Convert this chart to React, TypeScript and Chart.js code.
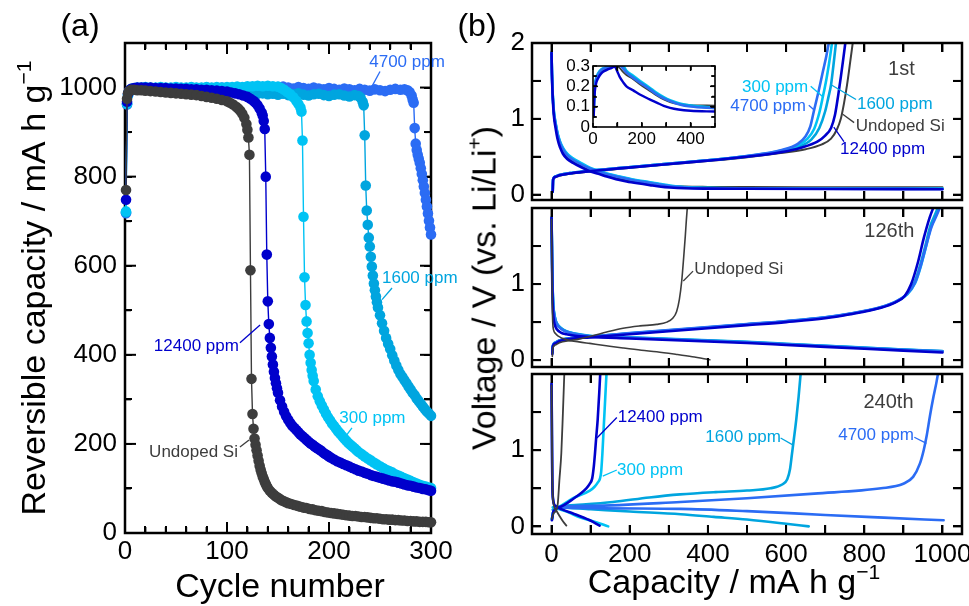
import { useEffect, useRef } from "react";
import { Chart, registerables } from "chart.js";

Chart.register(...registerables);

const FONT = "'Liberation Sans', Arial, Helvetica, sans-serif";

const COLOR_UNDOPED = "#3d3d3d";
const COLOR_12400 = "#0000cc";
const COLOR_300 = "#00c3f4";
const COLOR_1600 = "#00a5df";
const COLOR_4700 = "#2b6cf4";

type Pt = [number, number];

// ---------------- Panel (a): reversible capacity vs cycle number ----------------
const cycleTickLabels = [0, 100, 200, 300];
const capacityTickLabels = [0, 200, 400, 600, 800, 1000];

const capUndoped: Pt[] = [[1,770],[2,975],[3,987],[4,992],[6,995],[9,995],[12,994],[16,994],[20,993],[25,992],[30,991],[35,990],[40,989],[45,988],[50,987],[55,986],[60,985],[65,984],[70,983],[75,981],[80,979],[85,977],[90,975],[95,972],[100,969],[103,966],[106,962],[109,957],[111,953],[113,948],[115,941],[117,932],[119,918],[120,905],[121,888],[122,849],[123,590],[124,346],[125,267],[126,234],[127,212],[128,198],[129,186],[130,174],[131,162],[132,151],[133,142],[134,134],[135,127],[136,121],[137,115],[138,110],[139,105],[140,101],[142,95],[144,90],[146,86],[148,82],[150,79],[152,76],[154,73],[156,71],[158,69],[160,67],[163,65],[166,63],[169,61],[172,59],[175,57],[178,56],[181,54],[184,53],[187,51],[190,50],[193,49],[196,47],[199,46],[202,45],[205,44],[208,43],[211,42],[214,41],[217,40],[220,39],[223,38],[226,38],[229,37],[232,36],[235,36],[238,35],[241,34],[244,33],[247,33],[250,32],[253,31],[256,31],[259,30],[262,30],[265,29],[268,29],[271,28],[274,28],[277,27],[280,27],[283,26],[286,26],[289,25],[292,25],[295,25],[298,24],[300,24]];

const cap12400: Pt[] = [[1,748],[2,968],[3,986],[4,993],[6,997],[9,999],[12,1000],[16,1000],[20,1000],[25,1000],[30,999],[35,999],[40,999],[45,998],[50,998],[55,997],[60,997],[65,996],[70,996],[75,995],[80,995],[85,994],[90,993],[95,992],[100,991],[104,989],[108,987],[112,985],[116,982],[120,979],[123,975],[126,970],[128,966],[130,960],[132,953],[134,944],[135,937],[136,925],[137,907],[138,800],[139,625],[140,520],[141,469],[142,438],[143,416],[144,396],[145,378],[146,362],[147,348],[148,336],[149,325],[150,315],[152,298],[154,284],[156,272],[158,262],[160,254],[162,247],[164,241],[166,236],[168,231],[170,226],[172,221],[174,217],[176,213],[178,209],[180,205],[182,201],[184,198],[186,194],[188,191],[190,188],[192,185],[194,181],[196,178],[198,175],[200,172],[202,169],[205,165],[208,161],[211,158],[214,155],[217,152],[220,149],[223,146],[226,143],[229,140],[232,138],[235,135],[238,133],[241,130],[244,128],[247,126],[250,124],[253,122],[256,120],[259,118],[262,116],[265,115],[268,113],[271,111],[274,109],[277,107],[280,106],[283,104],[286,102],[289,101],[292,99],[295,98],[298,96],[300,95]];

const cap300: Pt[] = [[1,722],[2,964],[3,984],[4,992],[6,997],[9,999],[12,1000],[16,1000],[20,1001],[25,1000],[30,1000],[35,1001],[40,1000],[45,1000],[50,1001],[55,1000],[60,1000],[65,1001],[70,1000],[75,1000],[80,1001],[85,1000],[90,1001],[95,1000],[100,1001],[105,1001],[110,1002],[115,1001],[120,1003],[125,1003],[130,1004],[135,1003],[140,1004],[145,1003],[150,1002],[153,999],[156,995],[159,990],[162,985],[165,978],[168,970],[170,963],[172,955],[173,946],[174,881],[175,710],[176,574],[177,512],[178,475],[179,449],[180,426],[181,400],[182,382],[183,366],[184,353],[185,341],[187,322],[189,307],[191,296],[193,286],[195,277],[197,268],[199,260],[201,253],[203,246],[205,240],[207,234],[209,228],[211,223],[213,217],[215,212],[217,207],[219,202],[221,198],[223,194],[225,190],[227,186],[229,182],[232,177],[235,172],[238,167],[241,163],[244,158],[247,154],[250,150],[253,146],[256,142],[259,139],[262,136],[265,132],[268,129],[271,126],[274,123],[277,120],[280,117],[283,114],[286,111],[289,108],[292,106],[295,104],[298,102],[300,101]];

const cap1600: Pt[] = [[1,720],[2,963],[3,983],[4,991],[6,995],[9,997],[12,998],[16,998],[20,998],[25,997],[30,997],[35,997],[40,996],[45,996],[50,996],[55,995],[60,995],[65,995],[70,994],[75,994],[80,993],[85,993],[90,992],[95,992],[100,991],[105,990],[110,990],[115,989],[120,988],[125,987],[130,986],[135,987],[140,985],[145,986],[150,984],[155,986],[160,983],[165,985],[170,987],[175,984],[180,982],[185,985],[190,986],[195,983],[200,981],[205,984],[210,985],[215,982],[220,980],[225,983],[229,981],[231,977],[233,968],[234,960],[235,893],[236,780],[237,724],[238,692],[239,663],[240,643],[241,620],[242,598],[243,578],[244,560],[245,545],[246,531],[247,518],[248,506],[250,489],[252,471],[254,454],[256,438],[258,425],[260,413],[262,399],[264,387],[266,376],[268,366],[270,357],[272,350],[274,343],[276,336],[278,329],[280,322],[282,315],[284,309],[286,302],[288,296],[290,290],[292,284],[294,278],[296,273],[298,268],[300,263]];

const cap4700: Pt[] = [[1,718],[2,962],[3,983],[4,991],[6,996],[9,998],[12,999],[16,999],[20,1000],[25,999],[30,999],[35,1000],[40,999],[45,999],[50,1000],[55,999],[60,999],[65,1000],[70,999],[75,999],[80,1000],[85,999],[90,999],[95,1000],[100,999],[105,999],[110,1000],[115,999],[120,1000],[125,999],[130,1000],[135,1001],[140,1000],[145,999],[150,1001],[155,1002],[160,1000],[165,998],[170,1001],[175,999],[180,997],[185,1000],[190,998],[195,996],[200,999],[205,997],[210,995],[215,998],[220,996],[225,994],[230,997],[235,995],[240,993],[245,996],[250,994],[255,992],[260,995],[265,997],[270,995],[274,996],[277,994],[279,990],[281,982],[282,973],[283,966],[284,909],[285,874],[286,860],[287,849],[288,840],[289,831],[290,819],[291,806],[292,792],[293,778],[294,763],[295,748],[296,733],[297,717],[298,701],[299,686],[300,670]];

// ---------------- Panel (b): voltage profiles ----------------
const capAxisTickLabels = [0, 200, 400, 600, 800, 1000];
const voltTickLabelsTop = [0, 1, 2];
const voltTickLabels = [0, 1];
const insetCapTickLabels = [0, 200, 400];
const insetVoltTickLabels = [0, 0.1, 0.2, 0.3];

// 1st cycle
const c1DisUndoped: Pt[] = [[0,1.87],[1,1.6],[3,1.3],[6,1.06],[10,0.92],[16,0.75],[22,0.65],[29,0.57],[40,0.5],[55,0.44],[75,0.38],[98,0.33],[120,0.295],[141,0.26],[165,0.225],[192,0.19],[220,0.165],[252,0.14],[280,0.125],[303,0.115],[340,0.107],[400,0.103],[500,0.1],[700,0.099],[1000,0.098]];
const c1Dis12400: Pt[] = [[0,1.87],[1,1.58],[3,1.28],[6,1.04],[10,0.89],[16,0.72],[22,0.62],[29,0.54],[40,0.47],[55,0.42],[75,0.365],[98,0.31],[120,0.275],[141,0.24],[165,0.205],[192,0.175],[220,0.15],[252,0.125],[280,0.105],[303,0.095],[340,0.085],[400,0.08],[500,0.078],[700,0.075],[1000,0.072]];
const c1Dis300: Pt[] = [[0,1.87],[1,1.62],[3,1.33],[6,1.1],[10,0.96],[16,0.8],[22,0.7],[29,0.62],[40,0.54],[55,0.48],[75,0.42],[98,0.355],[120,0.315],[141,0.28],[165,0.25],[192,0.22],[220,0.19],[252,0.165],[280,0.14],[303,0.12],[340,0.1],[400,0.09],[500,0.085],[700,0.082],[1000,0.08]];
const c1Dis1600: Pt[] = [[0,1.87],[1,1.61],[3,1.32],[6,1.09],[10,0.95],[16,0.79],[22,0.69],[29,0.61],[40,0.53],[55,0.47],[75,0.41],[98,0.35],[120,0.31],[141,0.275],[165,0.245],[192,0.215],[220,0.185],[252,0.16],[280,0.135],[303,0.115],[340,0.098],[400,0.088],[500,0.083],[700,0.08],[1000,0.078]];
const c1Dis4700: Pt[] = [[0,1.87],[1,1.6],[3,1.31],[6,1.08],[10,0.94],[16,0.78],[22,0.68],[29,0.6],[40,0.52],[55,0.46],[75,0.4],[98,0.345],[120,0.305],[141,0.27],[165,0.24],[192,0.21],[220,0.18],[252,0.155],[280,0.13],[303,0.11],[340,0.095],[400,0.085],[500,0.08],[700,0.078],[1000,0.076]];
const c1ChgUndoped: Pt[] = [[3,0.04],[4,0.19],[10,0.23],[20,0.25],[55,0.28],[98,0.305],[183,0.345],[303,0.4],[413,0.45],[500,0.495],[586,0.55],[650,0.6],[690,0.66],[715,0.74],[730,0.86],[740,1.0],[748,1.2],[756,1.45],[764,1.75],[771,2.02]];
const c1Chg12400: Pt[] = [[3,0.04],[4,0.2],[10,0.235],[20,0.255],[55,0.285],[98,0.31],[183,0.35],[303,0.405],[413,0.455],[500,0.5],[586,0.56],[638,0.62],[680,0.7],[700,0.78],[715,0.88],[725,1.05],[733,1.3],[740,1.55],[746,1.78],[752,2.02]];
const c1Chg300: Pt[] = [[3,0.04],[4,0.2],[10,0.24],[20,0.26],[55,0.29],[98,0.315],[183,0.355],[303,0.41],[413,0.46],[500,0.51],[586,0.58],[630,0.65],[655,0.74],[672,0.87],[685,1.08],[694,1.29],[703,1.52],[711,1.77],[718,2.02]];
const c1Chg1600: Pt[] = [[3,0.04],[4,0.2],[10,0.24],[20,0.26],[55,0.29],[98,0.315],[183,0.355],[303,0.41],[413,0.46],[500,0.505],[586,0.57],[630,0.63],[665,0.73],[685,0.88],[700,1.1],[708,1.28],[715,1.45],[721,1.7],[728,2.02]];
const c1Chg4700: Pt[] = [[3,0.04],[4,0.2],[10,0.24],[20,0.26],[55,0.29],[98,0.315],[183,0.355],[303,0.41],[413,0.46],[500,0.51],[586,0.585],[630,0.67],[650,0.77],[662,0.9],[671,1.1],[683,1.36],[694,1.62],[703,1.83],[710,2.02]];

// inset of 1st cycle (0-0.3 V)
const inUndoped: Pt[] = [[3,0.05],[5,0.14],[8,0.19],[14,0.23],[21,0.25],[35,0.27],[55,0.285],[75,0.295],[95,0.302],[108,0.292],[122,0.272],[137,0.256],[165,0.235],[192,0.21],[230,0.18],[261,0.155],[290,0.135],[316,0.122],[355,0.112],[400,0.108],[500,0.105]];
const in12400: Pt[] = [[3,0.05],[5,0.13],[8,0.18],[14,0.22],[21,0.24],[35,0.265],[55,0.28],[75,0.29],[89,0.297],[100,0.272],[110,0.245],[125,0.218],[137,0.2],[165,0.18],[192,0.16],[230,0.137],[261,0.12],[290,0.104],[316,0.094],[350,0.086],[400,0.08],[500,0.076]];
const in300: Pt[] = [[3,0.06],[5,0.16],[8,0.21],[14,0.245],[21,0.265],[35,0.285],[55,0.295],[75,0.305],[100,0.312],[120,0.308],[137,0.278],[165,0.252],[192,0.228],[230,0.196],[261,0.168],[290,0.147],[316,0.132],[355,0.116],[400,0.106],[500,0.096]];
const in1600: Pt[] = [[3,0.06],[5,0.155],[8,0.205],[14,0.24],[21,0.26],[35,0.282],[55,0.293],[75,0.303],[100,0.31],[118,0.305],[137,0.272],[165,0.246],[192,0.222],[230,0.191],[261,0.163],[290,0.143],[316,0.129],[355,0.113],[400,0.104],[500,0.094]];
const in4700: Pt[] = [[3,0.055],[5,0.15],[8,0.2],[14,0.238],[21,0.258],[35,0.28],[55,0.292],[75,0.3],[100,0.306],[115,0.298],[137,0.267],[165,0.241],[192,0.218],[230,0.187],[261,0.16],[290,0.14],[316,0.127],[355,0.11],[400,0.1],[500,0.092]];

// 126th cycle
const c126DisUndoped: Pt[] = [[0,1.85],[1,1.2],[2,0.7],[3,0.5],[5,0.4],[10,0.35],[16,0.32],[38,0.27],[70,0.24],[98,0.22],[140,0.19],[183,0.16],[230,0.13],[269,0.11],[320,0.075],[360,0.045],[405,0.005]];
const c126ChgUndoped: Pt[] = [[2,0.05],[3,0.15],[10,0.2],[20,0.23],[50,0.26],[72,0.28],[105,0.32],[141,0.37],[183,0.42],[226,0.45],[269,0.47],[295,0.5],[310,0.55],[320,0.64],[327,0.8],[333,1.04],[338,1.35],[342,1.62],[345,1.85],[348,2.05]];
const c126Dis12400: Pt[] = [[0,1.87],[1,1.4],[2,0.95],[3,0.72],[5,0.56],[8,0.47],[13,0.41],[25,0.36],[38,0.34],[60,0.32],[98,0.305],[200,0.285],[300,0.265],[400,0.245],[500,0.225],[600,0.2],[700,0.175],[800,0.15],[900,0.125],[1000,0.1]];
const c126Dis300: Pt[] = [[0,1.87],[1,1.51],[2,1.11],[4,0.77],[8,0.575],[13,0.485],[25,0.415],[38,0.378],[60,0.348],[98,0.318],[200,0.298],[300,0.278],[400,0.258],[500,0.238],[600,0.212],[700,0.188],[800,0.163],[900,0.138],[1000,0.118]];
const c126Dis1600: Pt[] = [[0,1.87],[1,1.52],[2,1.12],[4,0.78],[8,0.58],[13,0.49],[25,0.42],[38,0.38],[60,0.35],[98,0.32],[200,0.3],[300,0.28],[400,0.26],[500,0.24],[600,0.215],[700,0.19],[800,0.165],[900,0.14],[1000,0.12]];
const c126Dis4700: Pt[] = [[0,1.87],[1,1.5],[2,1.1],[4,0.76],[8,0.57],[13,0.48],[25,0.41],[38,0.375],[60,0.345],[98,0.315],[200,0.295],[300,0.275],[400,0.255],[500,0.235],[600,0.21],[700,0.185],[800,0.16],[900,0.135],[1000,0.115]];
const c126Chg12400: Pt[] = [[2,0.08],[3,0.17],[10,0.22],[20,0.25],[50,0.28],[98,0.3],[200,0.34],[300,0.38],[400,0.42],[500,0.46],[600,0.5],[700,0.55],[760,0.6],[843,0.69],[880,0.76],[903,0.84],[920,1.0],[938,1.3],[952,1.6],[967,1.87],[980,2.05]];
const c126Chg300: Pt[] = [[2,0.1],[3,0.18],[10,0.23],[20,0.26],[50,0.29],[98,0.31],[200,0.352],[300,0.392],[400,0.432],[500,0.472],[600,0.512],[700,0.562],[760,0.607],[843,0.697],[880,0.767],[910,0.865],[930,1.01],[945,1.24],[958,1.49],[970,1.74],[983,1.9],[995,2.05]];
const c126Chg1600: Pt[] = [[2,0.1],[3,0.18],[10,0.23],[20,0.26],[50,0.29],[98,0.31],[200,0.35],[300,0.39],[400,0.43],[500,0.47],[600,0.51],[700,0.56],[760,0.605],[843,0.695],[880,0.765],[908,0.865],[928,1.02],[943,1.25],[956,1.5],[968,1.75],[980,1.9],[992,2.05]];
const c126Chg4700: Pt[] = [[2,0.1],[3,0.18],[10,0.23],[20,0.26],[50,0.29],[98,0.31],[200,0.355],[300,0.395],[400,0.435],[500,0.475],[600,0.515],[700,0.565],[760,0.61],[843,0.7],[880,0.77],[910,0.87],[930,1.02],[945,1.25],[958,1.5],[972,1.75],[985,1.9],[997,2.05]];

// 240th cycle
const c240DisUndoped: Pt[] = [[0,1.85],[2,0.6],[5,0.3],[12,0.21],[20,0.14],[30,0.06],[38,0.01]];
const c240ChgUndoped: Pt[] = [[1,0.1],[5,0.17],[12,0.21],[16,0.3],[20,0.6],[25,0.96],[29,1.48],[33,2.05]];
const c240Dis12400: Pt[] = [[0,1.87],[1,1.2],[2,0.6],[4,0.35],[10,0.27],[28,0.22],[55,0.17],[98,0.08],[123,0.01]];
const c240Chg12400: Pt[] = [[1,0.08],[5,0.2],[20,0.25],[55,0.36],[89,0.5],[98,0.56],[104,0.63],[108,0.78],[111,0.95],[114,1.15],[118,1.4],[122,1.75],[125,2.05]];
const c240Dis300: Pt[] = [[3,0.25],[10,0.24],[40,0.19],[72,0.12],[110,0.06],[145,0.0]];
const c240Chg300: Pt[] = [[1,0.09],[5,0.2],[20,0.26],[55,0.37],[98,0.47],[110,0.52],[119,0.58],[124,0.63],[127,0.72],[130,0.95],[133,1.25],[136,1.55],[139,1.85],[141,2.05]];
const c240Dis1600: Pt[] = [[3,0.22],[15,0.25],[100,0.225],[200,0.195],[330,0.16],[415,0.125],[500,0.09],[600,0.035],[658,0.0]];
const c240Chg1600: Pt[] = [[1,0.1],[5,0.2],[15,0.25],[60,0.28],[157,0.32],[250,0.38],[329,0.42],[420,0.45],[500,0.47],[560,0.5],[590,0.55],[603,0.62],[610,0.75],[615,0.95],[620,1.15],[626,1.4],[632,1.7],[638,2.05]];
const c240Dis4700: Pt[] = [[0,1.87],[1,1.2],[2,0.6],[4,0.35],[10,0.26],[20,0.25],[330,0.23],[500,0.2],[700,0.15],[850,0.115],[1003,0.08]];
const c240Chg4700: Pt[] = [[1,0.1],[5,0.2],[12,0.25],[100,0.27],[330,0.32],[500,0.37],[672,0.43],[843,0.5],[900,0.56],[925,0.65],[942,0.82],[952,1.0],[960,1.2],[968,1.45],[977,1.7],[985,1.9],[990,2.05]];

// ---------------- helpers ----------------
const toXY = (arr: Pt[]) => arr.map(([x, y]) => ({ x, y }));

function markerSeries(data: Pt[], color: string) {
  return {
    data: toXY(data), xAxisID: "x", yAxisID: "y", borderColor: color, backgroundColor: color, borderWidth: 1.4,
    pointRadius: 5.3, pointHoverRadius: 5.3, pointBorderWidth: 0, showLine: true, clip: false, tension: 0,
  };
}
function curve(data: Pt[], color: string, width = 2.6) {
  return {
    data: toXY(data), xAxisID: "x", yAxisID: "y", borderColor: color, backgroundColor: color, borderWidth: width,
    pointRadius: 0, pointHoverRadius: 0, showLine: true, cubicInterpolationMode: "monotone",
    borderJoinStyle: "round", borderCapStyle: "round",
  };
}

type Seg = { t: string; sup?: boolean };
type Title = { segs: Seg[]; px: number; py: number; size: number; rot?: number };

const txt = (text: string, x: number, y: number, color: string, size = 17) => ({ kind: "text", text, x, y, color, size });
const lead = (x1: number, y1: number, x2: number, y2: number, color: string) => ({ kind: "line", x1, y1, x2, y2, color });

function stepValues(min: number, max: number, step: number) {
  const out: number[] = [];
  const k0 = Math.ceil(min / step - 1e-9);
  const k1 = Math.floor(max / step + 1e-9);
  for (let k = k0; k <= k1; k++) out.push(Number((k * step).toFixed(6)));
  return out;
}
function isMultiple(v: number, step: number) {
  return Math.abs(v / step - Math.round(v / step)) < 1e-6;
}
function inList(list: number[], v: number) {
  return list.some((u) => Math.abs(u - v) < 1e-6);
}

function drawFrame(chart: any, d: any) {
  const ctx = chart.ctx;
  const a = chart.chartArea;
  const xs = chart.scales.x;
  const ys = chart.scales.y;
  const w = d.tickW;
  ctx.save();
  ctx.fillStyle = "#000";
  const xv = stepValues(d.xMin, d.xMax, d.xMinor);
  for (let i = 0; i < xv.length; i++) {
    const v = xv[i];
    const p = xs.getPixelForValue(v);
    if (!(p > a.left + 1.5 && p < a.right - 1.5)) continue;
    const len = isMultiple(v, d.xMajor) ? d.xMajLen : d.xMinLen;
    ctx.fillRect(p - w / 2, a.bottom - len, w, len);
    ctx.fillRect(p - w / 2, a.top, w, len);
  }
  const yv = stepValues(d.yMin, d.yMax, d.yMinor);
  for (let i = 0; i < yv.length; i++) {
    const v = yv[i];
    const p = ys.getPixelForValue(v);
    if (!(p > a.top + 1.5 && p < a.bottom - 1.5)) continue;
    const len = isMultiple(v, d.yMajor) ? d.yMajLen : d.yMinLen;
    ctx.fillRect(a.left, p - w / 2, len, w);
    ctx.fillRect(a.right - len, p - w / 2, len, w);
  }
  ctx.strokeStyle = "#000";
  ctx.lineWidth = d.frameW;
  ctx.strokeRect(a.left, a.top, a.right - a.left, a.bottom - a.top);
  ctx.restore();
}

function drawRich(ctx: CanvasRenderingContext2D, t: Title, ox: number, oy: number) {
  ctx.save();
  ctx.translate(t.px - ox, t.py - oy);
  ctx.rotate(t.rot || 0);
  ctx.fillStyle = "#000";
  ctx.textBaseline = "alphabetic";
  ctx.textAlign = "left";
  const supSize = t.size * 0.62;
  const widths = t.segs.map((s) => {
    ctx.font = `${s.sup ? supSize : t.size}px ${FONT}`;
    return ctx.measureText(s.t).width;
  });
  const total = widths.reduce((a, b) => a + b, 0);
  let x = -total / 2;
  t.segs.forEach((s, i) => {
    ctx.font = `${s.sup ? supSize : t.size}px ${FONT}`;
    ctx.fillText(s.t, x, s.sup ? -t.size * 0.4 : 0);
    x += widths[i];
  });
  ctx.restore();
}

function drawAnns(chart: any, anns: any[]) {
  const ctx = chart.ctx;
  const xs = chart.scales.x;
  const ys = chart.scales.y;
  ctx.save();
  for (const an of anns) {
    if (an.kind === "line") {
      ctx.strokeStyle = an.color;
      ctx.lineWidth = 1.3;
      ctx.beginPath();
      ctx.moveTo(xs.getPixelForValue(an.x1), ys.getPixelForValue(an.y1));
      ctx.lineTo(xs.getPixelForValue(an.x2), ys.getPixelForValue(an.y2));
      ctx.stroke();
    } else {
      ctx.fillStyle = an.color;
      ctx.font = `${an.size}px ${FONT}`;
      ctx.textAlign = "center";
      ctx.textBaseline = "middle";
      ctx.fillText(an.text, xs.getPixelForValue(an.x), ys.getPixelForValue(an.y));
    }
  }
  ctx.restore();
}

function decorPlugin(d: any) {
  return {
    id: "decor",
    beforeDatasetsDraw(chart: any) { if (!d.frameOnTop) drawFrame(chart, d); },
    afterDatasetsDraw(chart: any) {
      if (d.frameOnTop) drawFrame(chart, d);
      drawAnns(chart, d.anns);
      d.titles.forEach((t: Title) => drawRich(chart.ctx, t, d.ox, d.oy));
    },
  };
}

function makeChart(canvas: HTMLCanvasElement, c: any) {
  const fmt = (v: number) => String(Number(Number(v).toFixed(3)));
  const cv = c.canvas;
  const decor = { ...c.decor, xMin: c.xMin, xMax: c.xMax, yMin: c.yMin, yMax: c.yMax, ox: cv.x, oy: cv.y };
  const L = c.nativeTickLen;
  const xTickVals = stepValues(c.xMin, c.xMax, c.decor.xMinor);
  const yTickVals = stepValues(c.yMin, c.yMax, c.decor.yMinor);
  const grid = () => ({
    display: true, drawOnChartArea: false, drawTicks: true, tickLength: -L,
    tickWidth: c.decor.tickW, tickColor: "#000", color: "rgba(0,0,0,0)", lineWidth: 0, z: c.gridZ,
  });
  const setX = (s: any) => { s.ticks = xTickVals.map((v) => ({ value: v })); };
  const setY = (s: any) => { s.ticks = yTickVals.map((v) => ({ value: v })); };
  return new Chart(canvas, {
    type: "scatter",
    data: { datasets: c.datasets },
    options: {
      animation: false,
      responsive: false,
      maintainAspectRatio: false,
      events: [],
      layout: {
        padding: {
          left: c.area.left - cv.x - c.yAxisW,
          top: c.area.top - cv.y,
          right: cv.x + cv.w - c.area.right,
          bottom: cv.y + cv.h - c.area.bottom - c.xAxisH,
        },
      },
      plugins: { legend: { display: false }, tooltip: { enabled: false } },
      scales: {
        x: {
          type: "linear", axis: "x", position: "bottom", min: c.xMin, max: c.xMax,
          afterBuildTicks: setX,
          afterFit: (s: any) => { s.height = c.xAxisH; s.paddingLeft = 0; s.paddingRight = 0; },
          grid: grid(),
          border: { display: false },
          ticks: {
            display: c.showXLabels, autoSkip: false, maxRotation: 0, minRotation: 0,
            padding: c.xPad + L, color: "#000", font: { family: FONT, size: c.labelSize },
            callback: (v: any) => (inList(c.xLabels, Number(v)) ? fmt(v) : ""),
          },
        },
        x2: {
          type: "linear", axis: "x", position: "top", min: c.xMin, max: c.xMax,
          afterBuildTicks: setX,
          afterFit: (s: any) => { s.height = 0; s.paddingLeft = 0; s.paddingRight = 0; },
          grid: grid(),
          border: { display: false },
          ticks: { display: false },
        },
        y: {
          type: "linear", axis: "y", position: "left", min: c.yMin, max: c.yMax,
          afterBuildTicks: setY,
          afterFit: (s: any) => { s.width = c.yAxisW; s.paddingTop = 0; s.paddingBottom = 0; },
          grid: grid(),
          border: { display: false },
          ticks: {
            display: true, autoSkip: false, padding: c.yPad + L, color: "#000",
            font: { family: FONT, size: c.labelSize },
            callback: (v: any) => (inList(c.yLabels, Number(v)) ? fmt(v) : ""),
          },
        },
        y2: {
          type: "linear", axis: "y", position: "right", min: c.yMin, max: c.yMax,
          afterBuildTicks: setY,
          afterFit: (s: any) => { s.width = 0; s.paddingTop = 0; s.paddingBottom = 0; },
          grid: grid(),
          border: { display: false },
          ticks: { display: false },
        },
      },
    } as any,
    plugins: [decorPlugin(decor)],
  } as any);
}

const B_X_MIN = -50;
const B_X_MAX = 1050;
const bDecorBase = {
  xMajor: 200, xMinor: 100, yMajor: 1, yMinor: 0.5,
  xMajLen: 9, xMinLen: 9, yMajLen: 9, yMinLen: 9, tickW: 2, frameW: 2.5, frameOnTop: true,
};

function panelA() {
  return {
    canvas: { x: 0, y: 0, w: 458, h: 606 },
    area: { left: 125, top: 43, right: 431, bottom: 533 },
    yAxisW: 125, xAxisH: 73, nativeTickLen: 7, gridZ: 0,
    xMin: 0, xMax: 300, yMin: 0, yMax: 1100,
    xLabels: cycleTickLabels, yLabels: capacityTickLabels,
    showXLabels: true, labelSize: 26, xPad: 3, yPad: 8,
    datasets: [
      markerSeries(capUndoped, COLOR_UNDOPED),
      markerSeries(cap12400, COLOR_12400),
      markerSeries(cap300, COLOR_300),
      markerSeries(cap1600, COLOR_1600),
      markerSeries(cap4700, COLOR_4700),
    ],
    decor: {
      xMajor: 100, xMinor: 20, yMajor: 200, yMinor: 100,
      xMajLen: 11, xMinLen: 6, yMajLen: 11, yMinLen: 6, tickW: 2, frameW: 2.5, frameOnTop: false,
      anns: [
        txt("4700 ppm", 276.5, 1056, COLOR_4700), lead(250, 1036, 242, 1002, COLOR_4700),
        txt("1600 ppm", 289, 571, COLOR_1600), lead(261.8, 550, 252, 524, COLOR_1600),
        txt("12400 ppm", 70, 418, COLOR_12400), lead(112.7, 427, 132.4, 467, COLOR_12400),
        txt("300 ppm", 242.6, 258, COLOR_300), lead(222.5, 236, 213.7, 209, COLOR_300),
        txt("Undoped Si", 67.2, 182, COLOR_UNDOPED), lead(112.7, 193, 121.6, 209, COLOR_UNDOPED),
      ],
      titles: [
        { segs: [{ t: "(a)" }], px: 80, py: 36, size: 32 },
        { segs: [{ t: "Cycle number" }], px: 280, py: 597, size: 34 },
        { segs: [{ t: "Reversible capacity / mA h g" }, { t: "\u22121", sup: true }], px: 45, py: 288, size: 34, rot: -Math.PI / 2 },
      ],
    },
  };
}

function panelB1() {
  return {
    canvas: { x: 458, y: 0, w: 511, h: 204 },
    area: { left: 532, top: 43, right: 962, bottom: 200 },
    yAxisW: 72, xAxisH: 0, nativeTickLen: 9, gridZ: 1,
    xMin: B_X_MIN, xMax: B_X_MAX, yMin: -0.07, yMax: 2,
    xLabels: capAxisTickLabels, yLabels: voltTickLabelsTop,
    showXLabels: false, labelSize: 26, xPad: 5, yPad: 7,
    datasets: [
      curve(c1Chg12400, COLOR_12400), curve(c1Dis12400, COLOR_12400),
      curve(c1Chg4700, COLOR_4700), curve(c1Dis4700, COLOR_4700),
      curve(c1Chg300, COLOR_300), curve(c1Dis300, COLOR_300),
      curve(c1Chg1600, COLOR_1600), curve(c1Dis1600, COLOR_1600),
      curve(c1ChgUndoped, COLOR_UNDOPED, 2), curve(c1DisUndoped, COLOR_UNDOPED, 2),
    ],
    decor: {
      ...bDecorBase,
      anns: [
        txt("1st", 895, 1.65, COLOR_UNDOPED, 20),
        txt("300 ppm", 572, 1.41, COLOR_300), lead(663, 1.43, 694, 1.29, COLOR_300),
        txt("4700 ppm", 554, 1.16, COLOR_4700), lead(658, 1.18, 671, 1.12, COLOR_4700),
        txt("1600 ppm", 878, 1.19, COLOR_1600), lead(779, 1.255, 715, 1.45, COLOR_1600),
        txt("Undoped Si", 892, 0.9, COLOR_UNDOPED), lead(774, 0.95, 745, 1.06, COLOR_UNDOPED),
        txt("12400 ppm", 847, 0.6, COLOR_12400), lead(748, 0.7, 722, 0.89, COLOR_12400),
      ],
      titles: [
        { segs: [{ t: "(b)" }], px: 477, py: 36, size: 32 },
      ],
    },
  };
}

function panelB2() {
  return {
    canvas: { x: 458, y: 204, w: 511, h: 167 },
    area: { left: 532, top: 208, right: 962, bottom: 367 },
    yAxisW: 72, xAxisH: 0, nativeTickLen: 9, gridZ: 1,
    xMin: B_X_MIN, xMax: B_X_MAX, yMin: -0.09, yMax: 2,
    xLabels: capAxisTickLabels, yLabels: voltTickLabels,
    showXLabels: false, labelSize: 26, xPad: 5, yPad: 7,
    datasets: [
      curve(c126ChgUndoped, COLOR_UNDOPED, 1.6), curve(c126DisUndoped, COLOR_UNDOPED, 1.6),
      curve(c126Chg12400, COLOR_12400), curve(c126Dis12400, COLOR_12400),
      curve(c126Chg4700, COLOR_4700), curve(c126Dis4700, COLOR_4700),
      curve(c126Chg1600, COLOR_1600), curve(c126Dis1600, COLOR_1600),
      curve(c126Chg300, COLOR_300), curve(c126Dis300, COLOR_300),
    ],
    decor: {
      ...bDecorBase,
      anns: [
        txt("126th", 864, 1.69, COLOR_UNDOPED, 20),
        txt("Undoped Si", 479, 1.2, COLOR_UNDOPED), lead(362, 1.17, 337, 1.04, COLOR_UNDOPED),
      ],
      titles: [],
    },
  };
}

function panelB3() {
  return {
    canvas: { x: 458, y: 371, w: 511, h: 235 },
    area: { left: 532, top: 374, right: 962, bottom: 534 },
    yAxisW: 72, xAxisH: 72, nativeTickLen: 9, gridZ: 1,
    xMin: B_X_MIN, xMax: B_X_MAX, yMin: -0.1, yMax: 2,
    xLabels: capAxisTickLabels, yLabels: voltTickLabels,
    showXLabels: true, labelSize: 26, xPad: 5, yPad: 7,
    datasets: [
      curve(c240ChgUndoped, COLOR_UNDOPED, 1.8), curve(c240DisUndoped, COLOR_UNDOPED, 1.8),
      curve(c240Chg12400, COLOR_12400), curve(c240Dis12400, COLOR_12400),
      curve(c240Chg300, COLOR_300), curve(c240Dis300, COLOR_300),
      curve(c240Chg4700, COLOR_4700), curve(c240Dis4700, COLOR_4700),
      curve(c240Chg1600, COLOR_1600), curve(c240Dis1600, COLOR_1600),
    ],
    decor: {
      ...bDecorBase,
      anns: [
        txt("240th", 862, 1.63, COLOR_UNDOPED, 20),
        txt("12400 ppm", 278, 1.43, COLOR_12400), lead(167, 1.43, 116, 1.16, COLOR_12400),
        txt("300 ppm", 252, 0.74, COLOR_300), lead(167, 0.74, 131, 0.66, COLOR_300),
        txt("1600 ppm", 490, 1.17, COLOR_1600), lead(586, 1.16, 617, 1.07, COLOR_1600),
        txt("4700 ppm", 830, 1.2, COLOR_4700), lead(928, 1.17, 959, 1.09, COLOR_4700),
      ],
      titles: [
        { segs: [{ t: "Capacity / mA h g" }, { t: "\u22121", sup: true }], px: 734, py: 593, size: 34 },
      ],
    },
  };
}

function panelInset() {
  return {
    canvas: { x: 548, y: 56, w: 174, h: 96 },
    area: { left: 593, top: 66, right: 715, bottom: 127 },
    yAxisW: 40, xAxisH: 25, nativeTickLen: 4, gridZ: 1,
    xMin: 0, xMax: 500, yMin: 0, yMax: 0.3,
    xLabels: insetCapTickLabels, yLabels: insetVoltTickLabels,
    showXLabels: true, labelSize: 17, xPad: 2, yPad: 3,
    datasets: [
      curve(in12400, COLOR_12400, 2.4),
      curve(in4700, COLOR_4700, 2.4),
      curve(in1600, COLOR_1600, 2.4),
      curve(in300, COLOR_300, 2.4),
      curve(inUndoped, COLOR_UNDOPED, 1.8),
    ],
    decor: {
      xMajor: 100, xMinor: 100, yMajor: 0.1, yMinor: 0.05,
      xMajLen: 5, xMinLen: 5, yMajLen: 5, yMinLen: 3, tickW: 1.5, frameW: 1.6, frameOnTop: true,
      anns: [], titles: [],
    },
  };
}

const PANELS = [panelA(), panelB1(), panelB2(), panelB3(), panelInset()];

export default function App() {
  const r0 = useRef<HTMLCanvasElement>(null);
  const r1 = useRef<HTMLCanvasElement>(null);
  const r2 = useRef<HTMLCanvasElement>(null);
  const r3 = useRef<HTMLCanvasElement>(null);
  const r4 = useRef<HTMLCanvasElement>(null);
  const refs = [r0, r1, r2, r3, r4];

  useEffect(() => {
    const charts = PANELS.map((c, i) => makeChart(refs[i].current as HTMLCanvasElement, c));
    return () => charts.forEach((ch) => ch.destroy());
  }, []);

  return (
    <div style={{ position: "absolute", left: 0, top: 0, width: 969, height: 606, background: "#fff", overflow: "hidden" }}>
      {PANELS.map((c, i) => (
        <canvas
          key={i}
          ref={refs[i]}
          width={c.canvas.w}
          height={c.canvas.h}
          style={{ position: "absolute", left: c.canvas.x, top: c.canvas.y, width: c.canvas.w, height: c.canvas.h }}
        />
      ))}
      <div
        style={{
          position: "absolute", left: 486, top: 288, transform: "translate(-50%, -50%) rotate(-90deg)",
          fontFamily: FONT, fontSize: 34, lineHeight: "34px", whiteSpace: "nowrap", color: "#000",
        }}
      >
        Voltage / V (vs. Li/Li
        <span style={{ fontSize: "0.62em", position: "relative", top: "-0.65em" }}>+</span>)
      </div>
    </div>
  );
}
